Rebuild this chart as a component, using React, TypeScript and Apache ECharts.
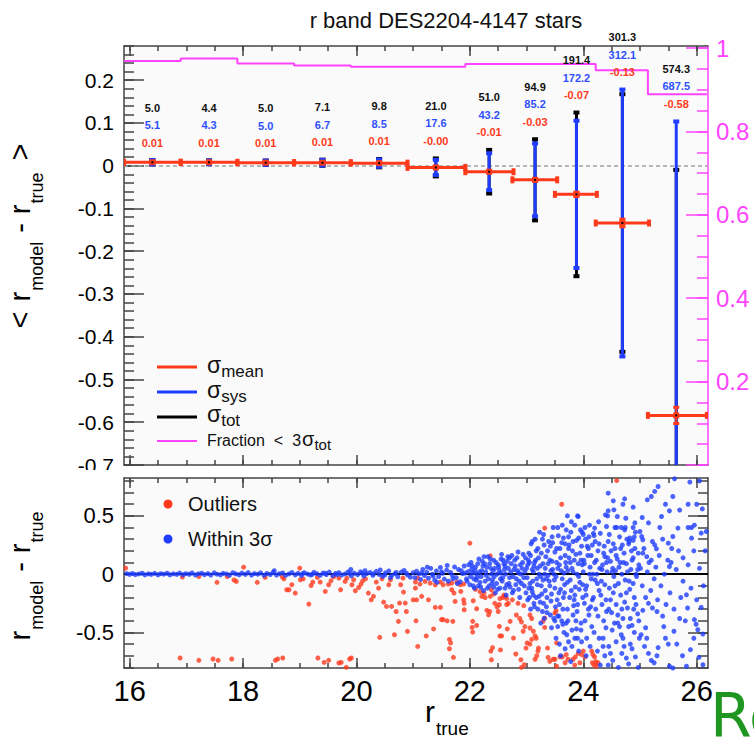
import React, { useEffect, useRef } from "react";
import * as echarts from "echarts";

// ---------------- top panel: binned mean residual ----------------
const binCenter = [16.4, 17.4, 18.4, 19.4, 20.4, 21.4, 22.34, 23.15, 23.88, 24.69, 25.64];
const binLow = [15.9, 16.9, 17.9, 18.9, 19.9, 20.9, 21.92, 22.75, 23.5, 24.22, 25.14];
const binHigh = [16.9, 17.9, 18.9, 19.9, 20.9, 21.92, 22.77, 23.54, 24.24, 25.16, 26.18];
const meanDiff = [0.008, 0.008, 0.007, 0.007, 0.006, -0.004, -0.014, -0.033, -0.067, -0.134, -0.584];
const sigmaMean = [0.001, 0.001, 0.001, 0.001, 0.001, 0.001, 0.002, 0.003, 0.005, 0.009, 0.019];
const sigmaSysMmag = [5.1, 4.3, 5.0, 6.7, 8.5, 17.6, 43.2, 85.2, 172.2, 312.1, 687.5];
const sigmaTotMmag = [5.0, 4.4, 5.0, 7.1, 9.8, 21.0, 51.0, 94.9, 191.4, 301.3, 574.3];
const fraction = [0.969, 0.975, 0.963, 0.958, 0.955, 0.955, 0.962, 0.962, 0.962, 0.947, 0.889];

// ---------------- tick labels ----------------
const majorX = [16, 18, 20, 22, 24, 26];
const topYLabels = [-0.7, -0.6, -0.5, -0.4, -0.3, -0.2, -0.1, 0, 0.1, 0.2];
const fracLabels = [0.2, 0.4, 0.6, 0.8, 1];
const bottomYLabels = [-0.5, 0, 0.5];

// ---------------- bottom panel: individual stars ----------------
const outliers = [
  [15.93, 0.052], [16.93, -0.025], [17.22, -0.02], [17.54, -0.07], [17.72, -0.02], [17.84, -0.05], [17.88, -0.062], [18.01, 0.06],
  [18.25, -0.07], [18.39, -0.028], [18.69, -0.022], [18.72, -0.04], [18.77, -0.134], [18.81, -0.134], [18.86, -0.09], [18.92, -0.162],
  [19.0, 0.052], [19.01, -0.048], [19.06, -0.04], [19.16, -0.257], [19.2, -0.097], [19.23, -0.068], [19.31, -0.028], [19.36, -0.068],
  [19.45, -0.148], [19.51, -0.091], [19.55, -0.057], [19.6, -0.022], [19.69, -0.034], [19.72, -0.134], [19.8, -0.062], [19.83, -0.034],
  [19.92, -0.091], [19.95, -0.048], [19.98, -0.142], [20.04, -0.114], [20.08, -0.085], [20.11, -0.057], [20.16, -0.04], [20.21, -0.162],
  [20.26, -0.22], [20.3, -0.19], [20.35, -0.068], [20.39, -0.12], [20.41, -0.542], [20.45, -0.04], [20.48, -0.24], [20.53, -0.277],
  [20.57, -0.091], [20.6, -0.048], [20.62, -0.277], [20.67, -0.52], [20.7, -0.32], [20.74, -0.405], [20.76, -0.248], [20.78, -0.091],
  [20.82, -0.034], [20.83, -0.154], [20.86, -0.248], [20.88, -0.32], [20.9, -0.491], [21.0, -0.22], [21.04, -0.12], [21.05, -0.4],
  [21.08, -0.62], [21.08, -0.034],
  [16.89, -0.719], [17.22, -0.739], [17.47, -0.728], [17.56, -0.739], [17.8, -0.728], [18.57, -0.739], [18.61, -0.728], [18.7, -0.719],
  [19.32, -0.719], [19.43, -0.757], [19.51, -0.739], [19.69, -0.762], [19.73, -0.757], [19.82, -0.799], [19.88, -0.728], [19.91, -0.719],
  [22.0, 0.266], [23.32, 0.395], [22.36, 0.157],
  [21.04, -0.068], [21.12, -0.085], [21.21, -0.062], [21.3, -0.077], [21.39, -0.091], [21.48, -0.068], [21.53, -0.091], [21.62, -0.085],
  [21.68, -0.077], [21.77, -0.068], [21.83, -0.091], [21.89, -0.085],
  [21.15, -0.19], [21.06, -0.22], [21.27, -0.22], [21.39, -0.285], [21.48, -0.285], [21.5, -0.39], [21.53, -0.39], [21.6, -0.4],
  [21.36, -0.47], [21.23, -0.53], [21.64, -0.56], [21.66, -0.59], [21.64, -0.64], [21.71, -0.714], [21.7, -0.405], [21.72, -0.162],
  [21.74, -0.234], [21.68, -0.134], [21.84, -0.148], [21.89, -0.22], [21.9, -0.25], [21.9, -0.305], [22.05, -0.405], [22.04, -0.457],
  [22.05, -0.497], [22.12, -0.44], [22.06, -0.228], [22.12, -0.297], [22.21, -0.19], [22.27, -0.2], [22.36, -0.19], [22.3, -0.31],
  [22.35, -0.32], [22.33, -0.348], [22.38, -0.134], [22.44, -0.25], [22.48, -0.28], [22.52, -0.26], [22.53, -0.21], [22.5, -0.32],
  [22.52, -0.448], [22.53, -0.53], [22.56, -0.53], [22.4, -0.63], [22.37, -0.66], [22.38, -0.734], [22.54, -0.65], [22.6, -0.18],
  [22.62, -0.19], [22.65, -0.21], [22.65, -0.26], [22.68, -0.25], [22.66, -0.47], [22.71, -0.405], [22.77, -0.548], [22.81, -0.685],
  [22.82, -0.35], [22.88, -0.38], [22.91, -0.41], [22.97, -0.45], [22.94, -0.49], [22.99, -0.634], [23.01, -0.59], [22.9, -0.734],
  [22.96, -0.777], [22.91, -0.8], [23.06, -0.35], [23.09, -0.38], [23.06, -0.462], [23.12, -0.49], [23.15, -0.53], [23.17, -0.55],
  [23.09, -0.56], [23.06, -0.6], [23.15, -0.73], [23.18, -0.7], [23.2, -0.66], [23.29, -0.405], [23.32, -0.377], [23.32, -0.457],
  [23.21, -0.634], [23.37, -0.634], [23.38, -0.714], [23.41, -0.748], [23.47, -0.73], [23.5, -0.73], [23.53, -0.79], [23.52, -0.314],
  [22.1, -0.13], [22.18, -0.15], [22.25, -0.16], [22.42, -0.17], [22.58, -0.2], [22.75, -0.22], [22.85, -0.25], [22.95, -0.27],
  [24.59, 0.803], [23.62, 0.6], [23.5, -0.334], [23.53, -0.59], [23.59, -0.71], [23.63, -0.71], [23.7, -0.69], [23.73, -0.73],
  [23.68, -0.76], [23.82, -0.73], [23.86, -0.71], [23.91, -0.68], [23.97, -0.69], [24.0, -0.66], [24.03, -0.71], [23.94, -0.76],
  [23.85, -0.78], [24.15, -0.66], [24.17, -0.69], [24.2, -0.71], [24.16, -0.76], [24.19, -0.78], [24.23, -0.79], [24.26, -0.76], [24.22, -0.75],
];

const within3sigma = [
  [15.95, 0.004], [16.0, -0.002], [16.05, 0.006], [16.1, -0.004], [16.16, 0.002], [16.22, 0.008], [16.27, -0.006], [16.33, 0.003],
  [16.38, -0.002], [16.44, 0.007], [16.5, -0.005], [16.55, 0.004], [16.6, 0.0], [16.66, 0.008], [16.71, -0.006], [16.77, 0.003],
  [16.83, -0.002], [16.88, 0.009], [16.94, -0.005], [16.99, 0.004], [17.05, -0.001], [17.1, 0.01], [17.16, -0.007], [17.21, 0.003],
  [17.27, 0.008], [17.32, -0.004], [17.38, 0.005], [17.43, -0.008], [17.49, 0.011], [17.54, 0.0], [17.6, -0.006], [17.65, 0.007],
  [17.71, 0.002], [17.76, -0.009], [17.82, 0.012], [17.87, 0.003], [17.93, -0.005], [17.98, 0.009], [18.04, -0.002], [18.09, 0.013],
  [18.15, -0.008], [18.2, 0.005], [18.26, 0.0], [18.31, 0.011], [18.37, -0.01], [18.42, 0.006], [18.48, -0.003], [18.53, 0.014],
  [18.59, -0.007], [18.64, 0.004], [18.7, 0.01], [18.75, -0.011], [18.81, 0.002], [18.86, 0.015], [18.92, -0.006], [18.97, 0.007],
  [19.03, -0.012], [19.08, 0.012], [19.14, 0.001], [19.19, -0.008], [19.25, 0.016], [19.3, 0.004], [19.36, -0.01], [19.41, 0.009],
  [19.47, -0.003], [19.52, 0.018], [19.58, -0.013], [19.63, 0.006], [19.69, 0.013], [19.74, -0.007], [19.8, 0.002], [19.85, 0.019],
  [19.91, -0.014], [19.96, 0.008], [20.02, -0.004], [20.07, 0.02], [20.13, -0.016], [20.18, 0.005], [20.24, 0.014], [20.29, -0.009],
  [20.35, 0.024], [20.4, -0.002], [20.46, -0.018], [20.51, 0.011], [20.57, 0.027], [20.62, -0.012], [20.68, 0.004], [20.73, -0.022],
  [20.79, 0.018], [20.84, 0.032], [20.9, -0.006], [20.95, -0.026], [21.0, 0.012],
  [19.05, 0.004], [19.22, -0.002], [19.45, 0.008], [19.66, -0.004], [19.88, 0.006], [20.1, 0.009], [20.3, 0.003], [20.5, -0.008],
  [20.7, 0.015], [20.88, 0.008], [20.15, 0.03], [20.6, -0.03], [20.42, 0.036], [18.55, 0.03], [19.9, 0.04],
  [21.03, -0.03], [21.06, 0.025], [21.1, 0.002], [21.13, -0.045], [21.17, 0.04], [21.2, -0.012], [21.24, 0.015], [21.27, -0.035],
  [21.31, 0.05], [21.34, 0.0], [21.38, -0.05], [21.41, 0.028], [21.45, -0.02], [21.48, 0.058], [21.52, 0.008], [21.55, -0.042],
  [21.59, 0.035], [21.62, -0.06], [21.66, 0.015], [21.69, -0.01], [21.73, 0.062], [21.76, -0.03], [21.8, 0.04], [21.83, -0.065],
  [21.87, 0.005], [21.9, 0.07], [21.94, -0.04], [21.97, 0.022], [21.15, 0.01], [21.35, -0.015], [21.5, 0.02], [21.7, -0.04],
  [21.85, 0.03], [21.6, 0.075], [21.25, 0.06], [21.42, -0.07], [21.78, -0.08],
  [22.0, -0.09], [22.02, 0.1], [22.05, 0.01], [22.08, -0.12], [22.1, 0.06], [22.13, -0.03], [22.16, 0.13], [22.18, -0.07],
  [22.21, 0.03], [22.24, -0.14], [22.26, 0.09], [22.29, -0.01], [22.32, 0.15], [22.34, -0.1], [22.37, 0.05], [22.4, -0.05],
  [22.42, 0.12], [22.45, -0.16], [22.48, 0.0], [22.5, 0.08], [22.53, -0.12], [22.56, 0.17], [22.58, -0.03], [22.61, 0.04],
  [22.64, -0.18], [22.66, 0.11], [22.69, -0.08], [22.72, 0.02], [22.74, 0.16], [22.77, -0.14], [22.8, 0.07], [22.82, -0.04],
  [22.85, 0.19], [22.88, -0.2], [22.9, 0.0], [22.93, 0.1], [22.96, -0.1], [22.98, 0.14],
  [22.03, 0.04], [22.07, -0.04], [22.12, 0.0], [22.2, -0.02], [22.23, 0.07], [22.28, 0.02], [22.33, -0.04], [22.38, 0.0],
  [22.44, 0.05], [22.47, -0.08], [22.52, 0.03], [22.57, -0.06], [22.6, 0.09], [22.63, 0.0], [22.68, 0.05], [22.71, -0.11],
  [22.76, -0.02], [22.79, 0.12], [22.84, 0.03], [22.87, -0.06], [22.92, 0.05], [22.95, -0.03], [22.99, -0.16], [22.35, 0.09],
  [22.15, -0.1], [22.55, 0.13], [22.86, -0.13], [22.62, -0.12], [22.42, -0.11], [22.25, 0.15], [22.7, 0.14],
  [21.92, 0.01], [21.95, -0.06], [21.98, 0.08], [22.01, -0.02], [22.04, 0.07], [22.06, -0.1], [22.09, 0.03], [22.11, -0.05],
  [22.14, 0.09], [22.17, 0.02], [22.19, -0.11], [22.22, 0.11], [22.27, -0.06], [22.3, 0.06], [22.31, -0.12], [22.36, 0.13],
  [22.39, -0.08], [22.41, 0.03], [22.43, -0.02], [22.46, 0.1], [22.49, -0.13], [22.51, 0.06], [22.54, -0.04], [22.55, 0.01],
  [22.59, 0.12], [22.62, 0.07], [22.65, -0.09], [22.67, 0.15], [22.7, -0.03], [22.73, 0.09], [22.75, -0.16], [22.78, 0.04],
  [22.81, -0.09], [22.83, 0.14], [22.86, 0.01], [22.89, 0.08], [22.91, -0.08], [22.94, 0.17], [22.97, 0.02],
  [23.0, 0.05], [23.02, -0.22], [23.04, 0.18], [23.06, -0.08], [23.08, 0.26], [23.1, -0.15], [23.12, 0.02], [23.14, -0.28],
  [23.16, 0.12], [23.18, -0.04], [23.2, 0.22], [23.22, -0.19], [23.24, 0.07], [23.26, -0.1], [23.28, 0.3], [23.3, -0.25],
  [23.32, 0.0], [23.34, 0.15], [23.36, -0.33], [23.38, 0.09], [23.4, -0.06], [23.42, 0.24], [23.44, -0.17], [23.46, 0.04],
  [23.48, -0.38], [23.5, 0.19], [23.52, -0.02], [23.54, -0.22], [23.56, 0.33], [23.58, 0.08], [23.6, -0.13], [23.62, 0.27],
  [23.64, -0.3], [23.66, 0.01], [23.68, 0.16], [23.7, -0.42], [23.72, -0.07], [23.74, 0.22], [23.76, -0.2], [23.78, 0.36],
  [23.8, 0.05], [23.82, -0.35], [23.84, 0.12], [23.86, -0.11], [23.88, 0.29], [23.9, -0.26], [23.92, -0.02], [23.94, 0.18],
  [23.96, -0.48], [23.98, 0.08],
  [23.01, -0.03], [23.05, 0.1], [23.09, -0.12], [23.13, 0.07], [23.17, -0.2], [23.21, 0.14], [23.25, -0.02], [23.29, 0.09],
  [23.33, -0.14], [23.37, 0.2], [23.41, -0.1], [23.45, 0.11], [23.49, -0.05], [23.53, 0.1], [23.57, -0.16], [23.61, 0.03],
  [23.65, -0.2], [23.69, 0.1], [23.73, 0.03], [23.77, -0.05], [23.81, 0.2], [23.85, -0.18], [23.89, 0.0], [23.93, -0.13],
  [23.97, 0.24], [23.03, 0.12], [23.11, -0.06], [23.19, 0.05], [23.27, -0.17], [23.35, -0.04], [23.43, 0.03], [23.51, -0.28],
  [23.59, 0.22], [23.67, -0.09], [23.75, 0.14], [23.83, -0.27], [23.91, 0.09], [23.99, -0.09], [23.07, -0.3], [23.23, 0.36],
  [23.31, -0.38], [23.39, 0.28], [23.47, 0.4], [23.55, -0.45], [23.63, 0.42], [23.71, -0.52], [23.79, 0.45], [23.87, -0.4],
  [23.95, 0.38], [23.58, -0.6], [23.8, -0.62], [23.66, -0.5], [23.9, 0.5], [23.72, 0.5], [23.44, -0.46], [23.25, -0.42], [23.15, 0.3],
  [23.52, -0.55], [23.6, -0.7], [23.68, -0.64], [23.74, -0.58], [23.78, -0.75], [23.85, -0.55], [23.92, -0.66], [23.97, -0.58],
  [23.88, -0.47], [23.62, -0.4], [23.55, -0.36],
  [23.02, 0.08], [23.04, -0.12], [23.07, 0.16], [23.1, 0.04], [23.12, -0.18], [23.14, 0.1], [23.17, 0.2], [23.19, -0.09],
  [23.22, 0.0], [23.24, -0.24], [23.26, 0.18], [23.29, -0.05], [23.31, 0.25], [23.33, 0.05], [23.36, -0.2], [23.38, -0.01],
  [23.41, 0.12], [23.43, -0.23], [23.46, 0.27], [23.48, 0.0], [23.5, -0.12], [23.53, 0.22], [23.55, 0.05], [23.58, -0.26],
  [23.6, 0.14], [23.63, -0.04], [23.65, 0.31], [23.67, -0.16], [23.7, 0.06], [23.72, -0.3], [23.75, 0.25], [23.77, 0.1],
  [23.79, -0.14], [23.82, 0.02], [23.84, -0.22], [23.87, 0.17], [23.89, -0.32], [23.92, 0.31], [23.94, -0.07], [23.96, 0.12],
  [23.99, -0.2], [23.05, -0.2], [23.13, -0.25], [23.2, -0.3], [23.28, -0.32], [23.35, -0.28], [23.42, -0.35], [23.5, -0.4],
  [23.57, -0.36], [23.64, -0.43], [23.73, -0.4], [23.8, -0.48], [23.9, -0.55], [23.96, -0.42],
  [23.1, 0.28], [23.3, 0.34], [23.45, 0.32], [23.55, 0.4], [23.7, 0.38], [23.85, 0.42], [23.98, 0.36],
  [24.0, 0.02], [24.02, -0.25], [24.04, 0.3], [24.06, -0.1], [24.08, 0.16], [24.1, -0.35], [24.12, 0.06], [24.14, -0.04],
  [24.16, 0.25], [24.18, -0.2], [24.2, 0.1], [24.22, -0.3], [24.24, 0.0], [24.26, 0.2], [24.28, -0.14], [24.3, 0.35],
  [24.32, -0.06], [24.34, 0.08], [24.36, -0.4], [24.38, 0.15], [24.4, -0.22], [24.42, 0.02], [24.44, 0.28], [24.46, -0.12],
  [24.48, 0.11], [24.5, -0.33], [24.52, 0.05], [24.54, -0.02], [24.56, 0.22], [24.58, -0.26], [24.6, 0.13], [24.62, -0.08],
  [24.64, 0.32], [24.66, -0.18], [24.68, 0.0], [24.7, -0.38], [24.72, 0.18], [24.74, -0.05], [24.76, 0.09], [24.78, -0.29],
  [24.8, 0.26], [24.82, -0.13], [24.84, 0.04], [24.86, -0.44], [24.88, 0.14], [24.9, -0.2], [24.92, 0.36], [24.94, -0.02],
  [24.96, -0.34], [24.98, 0.08],
  [24.01, 0.12], [24.05, -0.18], [24.09, 0.22], [24.13, -0.28], [24.17, 0.0], [24.21, 0.28], [24.25, -0.08], [24.29, 0.05],
  [24.33, -0.26], [24.37, 0.24], [24.41, 0.1], [24.45, -0.3], [24.49, 0.2], [24.53, -0.16], [24.57, 0.03], [24.61, -0.35],
  [24.65, 0.1], [24.69, 0.25], [24.73, -0.24], [24.77, 0.3], [24.81, -0.06], [24.85, 0.2], [24.89, -0.3], [24.93, 0.0],
  [24.97, 0.18], [24.03, -0.4], [24.11, 0.42], [24.19, -0.5], [24.27, 0.45], [24.35, -0.55], [24.43, 0.5], [24.51, -0.48],
  [24.59, 0.4], [24.67, -0.52], [24.75, 0.48], [24.83, -0.6], [24.91, 0.44], [24.99, -0.55],
  [24.02, 0.09], [24.04, -0.13], [24.07, 0.24], [24.09, -0.3], [24.11, 0.0], [24.14, 0.16], [24.16, -0.22], [24.19, 0.33],
  [24.21, -0.05], [24.23, 0.12], [24.26, -0.36], [24.28, 0.26], [24.31, -0.18], [24.33, 0.04], [24.36, 0.18], [24.38, -0.09],
  [24.41, -0.32], [24.43, 0.14], [24.46, 0.34], [24.48, -0.22], [24.51, 0.02], [24.53, 0.26], [24.56, -0.1], [24.58, 0.16],
  [24.61, -0.42], [24.63, 0.06], [24.66, 0.22], [24.68, -0.3], [24.71, 0.1], [24.73, 0.38], [24.76, -0.16], [24.78, 0.02],
  [24.81, 0.28], [24.83, -0.38], [24.86, 0.12], [24.88, -0.08], [24.91, 0.22], [24.93, -0.26], [24.96, 0.04], [24.98, -0.4],
  [23.91, 0.495], [24.03, 0.4], [24.2, 0.395], [24.41, 0.409], [24.56, 0.4], [24.67, 0.4], [24.74, 0.4], [24.88, 0.4],
  [24.39, 0.509], [24.44, 0.543], [24.54, 0.552], [24.6, 0.495], [24.7, 0.6], [24.53, 0.629], [24.73, 0.646], [24.44, 0.695],
  [24.88, 0.575], [24.0, 0.34], [24.1, 0.32], [24.18, 0.35], [24.82, 0.31], [24.88, 0.29], [24.9, 0.32], [23.74, 0.32],
  [23.82, 0.28], [23.68, 0.26],
  [24.12, -0.62], [24.05, -0.7], [24.25, -0.66], [24.3, -0.78], [24.38, -0.7], [24.45, -0.62], [24.52, -0.74], [24.58, -0.58],
  [24.62, -0.8], [24.68, -0.68], [24.76, -0.72], [24.8, -0.77], [24.86, -0.64], [24.92, -0.71], [24.97, -0.8], [24.28, -0.55],
  [24.4, -0.46], [24.48, -0.68], [24.55, -0.42], [24.7, -0.55], [24.9, -0.5], [24.64, -0.45], [24.15, -0.45], [24.35, -0.62],
  [24.8, -0.45], [24.06, -0.55], [24.44, -0.78], [24.72, -0.62],
  [25.0, 0.366], [25.03, 0.323], [25.05, 0.295], [25.13, 0.638], [25.2, 0.666], [25.26, 0.71], [25.32, 0.752], [25.58, 0.666],
  [25.61, 0.818], [25.04, 0.486], [25.38, 0.495], [25.52, 0.543], [25.67, 0.395], [25.85, 0.4], [25.91, 0.4], [25.58, 0.323],
  [25.91, 0.309], [25.26, 0.252], [25.29, 0.218], [25.5, 0.266], [26.08, 0.352], [26.17, 0.366], [25.05, 0.18], [25.12, 0.15],
  [25.2, 0.12], [25.55, 0.1], [25.52, 0.066], [25.76, -0.06], [25.82, -0.177], [25.84, -0.29], [25.96, -0.39], [25.99, -0.43],
  [26.08, -0.285], [26.11, -0.514], [26.02, -0.477], [25.89, -0.648], [26.04, -0.714], [26.11, -0.777], [25.82, -0.79], [25.52, -0.79],
  [25.58, -0.805], [25.2, -0.74], [25.3, -0.7], [25.25, -0.76], [25.15, -0.68], [25.32, -0.63], [25.5, -0.6], [25.45, -0.55],
  [25.6, -0.49], [25.42, -0.45], [25.4, -0.36], [25.22, -0.29], [25.3, -0.32], [25.15, -0.25], [25.05, -0.31], [25.1, -0.46],
  [25.02, -0.52], [25.08, -0.62], [25.12, -0.55],
  [25.01, 0.05], [25.04, -0.1], [25.07, 0.22], [25.1, -0.2], [25.13, 0.02], [25.16, 0.1], [25.19, -0.14], [25.22, 0.28],
  [25.25, -0.04], [25.28, 0.06], [25.31, -0.22], [25.34, 0.16], [25.37, -0.1], [25.4, 0.3], [25.43, 0.0], [25.46, -0.26],
  [25.49, 0.12], [25.53, -0.16], [25.56, 0.22], [25.6, -0.3], [25.64, 0.04], [25.68, 0.2], [25.72, -0.2], [25.76, 0.14],
  [25.8, -0.4], [25.85, 0.08], [25.9, -0.12], [25.95, 0.2], [26.0, -0.22], [26.05, 0.05], [26.12, -0.1], [26.15, 0.2],
  [25.7, -0.38], [25.65, -0.6], [25.75, -0.7], [25.95, -0.55], [26.0, 0.6], [26.1, 0.56], [25.85, 0.6], [25.7, 0.55],
  [25.45, 0.6], [25.35, 0.4], [25.15, 0.44], [25.96, 0.42], [25.88, 0.79], [26.05, 0.8],
];

const FONT = '"Liberation Sans", Arial, Helvetica, sans-serif';
const FRAME = "#444444";
const MAG = "#ff44ff";
const RED = "#ff3a1a";
const BLUE = "#1f3cff";
const BLACK = "#000000";

const range = (a: number, b: number, s: number) => {
  const out: number[] = [];
  const n = Math.round((b - a) / s);
  for (let i = 0; i <= n; i++) out.push(+(a + i * s).toFixed(4));
  return out;
};

type Tok = { t: string; s: number; d?: number; g?: number };

function richLine(tokens: Tok[], x: number, y: number, rotation: number, color: string, anchor: "left" | "center") {
  const canvas = document.createElement("canvas");
  const ctx = canvas.getContext("2d") as CanvasRenderingContext2D;
  const ws = tokens.map((k) => {
    ctx.font = `${k.s}px "Liberation Sans"`;
    return ctx.measureText(k.t).width;
  });
  let total = 0;
  ws.forEach((w, i) => {
    total += w + (i < tokens.length - 1 ? tokens[i].g || 0 : 0);
  });
  let cx = anchor === "center" ? -total / 2 : 0;
  const children = tokens.map((k, i) => {
    const el = {
      type: "text",
      x: cx,
      y: (k.d || 0) - 0.35 * k.s,
      style: { text: k.t, fill: color, fontSize: k.s, fontFamily: FONT, align: "left", verticalAlign: "middle" },
    };
    cx += ws[i] + (k.g || 0);
    return el;
  });
  return { type: "group", x, y, rotation, children };
}

export default function App() {
  const ref = useRef<HTMLDivElement>(null);

  useEffect(() => {
    if (!ref.current) return;
    const chart = echarts.init(ref.current, null, { renderer: "svg" });

    const minorX = range(16, 26, 0.5);
    const topMinorY = range(-0.7, 0.28, 0.02);
    const fracMajor = range(0, 1, 0.2);
    const fracMinor = range(0, 1, 0.05);
    const botMajorY = [-0.5, 0, 0.5];
    const botMinorY = range(-0.8, 0.8, 0.1);

    const tickStyle = (c: string) => ({ color: c, width: 1.5 });

    const xAxes: any[] = [];
    [0, 1].forEach((g) => {
      ["bottom", "top"].forEach((pos) => {
        xAxes.push({
          gridIndex: g, type: "value", min: 15.9, max: 26.2, position: pos,
          axisLine: { show: true, onZero: false, lineStyle: { color: FRAME, width: 1.5 } },
          axisTick: { show: true, inside: true, length: 10, customValues: majorX, lineStyle: tickStyle(FRAME) },
          axisLabel: g === 1 && pos === "bottom"
            ? { show: true, customValues: majorX, fontSize: 29, color: "#000", fontFamily: FONT, margin: 8 }
            : { show: false },
          splitLine: { show: false },
        });
        xAxes.push({
          gridIndex: g, type: "value", min: 15.9, max: 26.2, position: pos,
          axisLine: { show: false, onZero: false },
          axisTick: { show: true, inside: true, length: 5, customValues: minorX, lineStyle: tickStyle(FRAME) },
          axisLabel: { show: false },
          splitLine: { show: false },
        });
      });
    });

    const yAx = (g: number, pos: string, min: number, max: number, ticks: number[], len: number, color: string, showLine: boolean, labels?: any) => ({
      gridIndex: g, type: "value", min, max, position: pos,
      axisLine: { show: showLine, onZero: false, lineStyle: { color, width: 1.5 } },
      axisTick: { show: true, inside: true, length: len, customValues: ticks, lineStyle: tickStyle(color) },
      axisLabel: labels || { show: false },
      splitLine: { show: false },
    });

    const yAxes = [
      yAx(0, "left", -0.7, 0.28, topYLabels, 20, FRAME, true,
        { show: true, customValues: topYLabels, fontSize: 21, color: "#000", fontFamily: FONT, margin: 10 }),
      yAx(0, "left", -0.7, 0.28, topMinorY, 10, FRAME, false),
      yAx(0, "right", 0, 1.005, fracMajor, 22, MAG, true,
        { show: true, customValues: fracLabels, fontSize: 24, color: MAG, fontFamily: FONT, margin: 8 }),
      yAx(0, "right", 0, 1.005, fracMinor, 11, MAG, false),
      yAx(1, "left", -0.805, 0.825, botMajorY, 20, FRAME, true,
        { show: true, customValues: bottomYLabels, fontSize: 22, color: "#000", fontFamily: FONT, margin: 10 }),
      yAx(1, "left", -0.805, 0.825, botMinorY, 10, FRAME, false),
      yAx(1, "right", -0.805, 0.825, botMajorY, 20, FRAME, true),
      yAx(1, "right", -0.805, 0.825, botMinorY, 10, FRAME, false),
    ];

    const binRows = binCenter.map((c, i) => [c, meanDiff[i], binLow[i], binHigh[i], sigmaMean[i], sigmaSysMmag[i], sigmaTotMmag[i]]);
    const fracSteps = binLow.map((x, i) => [x, fraction[i]]);
    fracSteps.push([binHigh[binHigh.length - 1], fraction[fraction.length - 1]]);

    const seg = (a: number[], b: number[], color: string, w: number) => ({
      type: "line", shape: { x1: a[0], y1: a[1], x2: b[0], y2: b[1] }, style: { stroke: color, lineWidth: w },
    });
    const box = (p: number[], w: number, h: number, color: string) => ({
      type: "rect", shape: { x: p[0] - w / 2, y: p[1] - h / 2, width: w, height: h }, style: { fill: color },
    });

    const option: any = {
      animation: false,
      backgroundColor: "#ffffff",
      grid: [
        { left: 124, top: 46, width: 584, height: 419, show: true, backgroundColor: "#fafafa", borderWidth: 0 },
        { left: 124, top: 478, width: 584, height: 190, show: true, backgroundColor: "#fafafa", borderWidth: 0 },
      ],
      xAxis: xAxes,
      yAxis: yAxes,
      series: [
        {
          name: "Fraction < 3σtot", type: "line", xAxisIndex: 0, yAxisIndex: 2, step: "end", showSymbol: false, symbol: "none",
          data: fracSteps, lineStyle: { color: MAG, width: 2 }, z: 2,
        },
        {
          name: "bars", type: "custom", xAxisIndex: 0, yAxisIndex: 0, clip: true, z: 3, data: binRows,
          renderItem: (params: any, api: any) => {
            const c = api.value(0), m = api.value(1), lo = api.value(2), hi = api.value(3);
            const sm = api.value(4), sy = api.value(5) / 1000, tt = api.value(6) / 1000;
            const P = (x: number, y: number) => api.coord([x, y]);
            const tT = P(c, m + tt), tB = P(c, m - tt);
            const sT = P(c, m + sy), sB = P(c, m - sy);
            const l = P(lo, m), h = P(hi, m);
            const mT = P(c, m + sm), mB = P(c, m - sm);
            const ctr = P(c, m);
            return {
              type: "group",
              children: [
                seg(tT, tB, BLACK, 3), box(tT, 6, 4, BLACK), box(tB, 6, 4, BLACK),
                seg(sT, sB, BLUE, 3), box(sT, 6, 4, BLUE), box(sB, 6, 4, BLUE),
                seg(l, h, RED, 3), box(l, 4, 7, RED), box(h, 4, 7, RED),
                seg(mT, mB, RED, 2), box(mT, 6, 3, RED), box(mB, 6, 3, RED),
                box(ctr, 6, 6, RED), box(ctr, 2, 2, BLACK),
              ],
            };
          },
        },
        {
          name: "σ_mean", type: "scatter", xAxisIndex: 0, yAxisIndex: 0, symbolSize: 0, z: 1,
          data: binCenter.map((c, i) => [c, meanDiff[i]]),
          markLine: {
            silent: true, symbol: "none", z: 1, label: { show: false },
            lineStyle: { color: "#a0a0a0", type: [4, 3], width: 1.5 },
            data: [{ yAxis: 0 }],
          },
        },
        {
          name: "labels", type: "custom", xAxisIndex: 0, yAxisIndex: 0, clip: false, z: 4, data: binRows,
          renderItem: (params: any, api: any) => {
            const c = api.value(0), m = api.value(1);
            const sy = api.value(5), tt = api.value(6);
            const p = api.coord([c, m + Math.max(sy, tt) / 1000]);
            const txt = (t: string, dy: number, color: string) => ({
              type: "text", x: p[0], y: p[1] + dy,
              style: { text: t, fill: color, fontSize: 11, fontWeight: "bold", fontFamily: FONT, align: "center", verticalAlign: "middle" },
            });
            return {
              type: "group",
              children: [
                txt(m.toFixed(2), -17.5, RED),
                txt(sy.toFixed(1), -35, "#2f4fff"),
                txt(tt.toFixed(1), -52.5, "#111111"),
              ],
            };
          },
        },
        {
          name: "Outliers", type: "scatter", xAxisIndex: 4, yAxisIndex: 4, symbolSize: 5, z: 3,
          itemStyle: { color: "#ff3a1e" }, data: outliers,
        },
        {
          name: "Within 3σ", type: "scatter", xAxisIndex: 4, yAxisIndex: 4, symbolSize: 5, z: 4,
          itemStyle: { color: "#1f3dff" }, data: within3sigma,
          markLine: {
            silent: true, symbol: "none", z: 2, label: { show: false },
            lineStyle: { color: "#000", type: "solid", width: 2 },
            data: [{ yAxis: 0 }],
          },
        },
      ],
      graphic: [
        {
          type: "text", x: 446, y: 20,
          style: { text: "r band DES2204-4147 stars", fontSize: 22, fontFamily: FONT, fill: "#111", align: "center", verticalAlign: "middle" },
        },
        richLine([
          { t: "<", s: 29, g: 10 }, { t: "r", s: 29, g: 1 }, { t: "model", s: 18, d: 13, g: 9 },
          { t: "-", s: 29, g: 9 }, { t: "r", s: 29, g: 1 }, { t: "true", s: 18, d: 13, g: 12 }, { t: ">", s: 29 },
        ], 30, 236, Math.PI / 2, "#000", "center"),
        richLine([
          { t: "r", s: 29, g: 1 }, { t: "model", s: 18, d: 13, g: 9 },
          { t: "-", s: 29, g: 9 }, { t: "r", s: 29, g: 1 }, { t: "true", s: 18, d: 13 },
        ], 30, 576, Math.PI / 2, "#000", "center"),
        richLine([{ t: "r", s: 30, g: 1 }, { t: "true", s: 19, d: 13 }], 425, 722, 0, "#000", "left"),
        // top legend
        { type: "line", shape: { x1: 157, y1: 367, x2: 197, y2: 367 }, style: { stroke: RED, lineWidth: 3 } },
        { type: "line", shape: { x1: 157, y1: 392, x2: 197, y2: 392 }, style: { stroke: BLUE, lineWidth: 3 } },
        { type: "line", shape: { x1: 157, y1: 417, x2: 197, y2: 417 }, style: { stroke: BLACK, lineWidth: 3 } },
        { type: "line", shape: { x1: 157, y1: 441, x2: 197, y2: 441 }, style: { stroke: MAG, lineWidth: 2 } },
        richLine([{ t: "σ", s: 23 }, { t: "mean", s: 17, d: 4 }], 207, 373, 0, "#111", "left"),
        richLine([{ t: "σ", s: 23 }, { t: "sys", s: 17, d: 4 }], 207, 398, 0, "#111", "left"),
        richLine([{ t: "σ", s: 23 }, { t: "tot", s: 17, d: 4 }], 207, 422, 0, "#111", "left"),
        richLine([
          { t: "Fraction", s: 16, g: 9 }, { t: "<", s: 16, g: 9 }, { t: "3", s: 16, g: 1 },
          { t: "σ", s: 20 }, { t: "tot", s: 15, d: 4 },
        ], 207, 446, 0, "#111", "left"),
        // bottom legend
        { type: "circle", shape: { cx: 168, cy: 504, r: 4.5 }, style: { fill: "#ff3a1e" } },
        { type: "circle", shape: { cx: 168, cy: 539, r: 4.5 }, style: { fill: "#1f3dff" } },
        { type: "text", x: 188, y: 504, style: { text: "Outliers", fontSize: 20, fontFamily: FONT, fill: "#111", align: "left", verticalAlign: "middle" } },
        { type: "text", x: 188, y: 539, style: { text: "Within 3σ", fontSize: 20, fontFamily: FONT, fill: "#111", align: "left", verticalAlign: "middle" } },
        // pad clipping of the lowest top-panel label
        { type: "rect", z: 100, shape: { x: 0, y: 470, width: 122, height: 7 }, style: { fill: "#ffffff" } },
        // stray annotation at bottom right (cut by the page edge, as in the reference)
        { type: "text", x: 710, y: 716, z: 100, style: { text: "Ro", fontSize: 60, fontFamily: '"DejaVu Sans"', fill: "#1f961f", align: "left", verticalAlign: "middle" } },
      ],
    };

    chart.setOption(option);
    return () => chart.dispose();
  }, []);

  return <div ref={ref} style={{ position: "absolute", left: 0, top: 0, width: 754, height: 745 }} />;
}
